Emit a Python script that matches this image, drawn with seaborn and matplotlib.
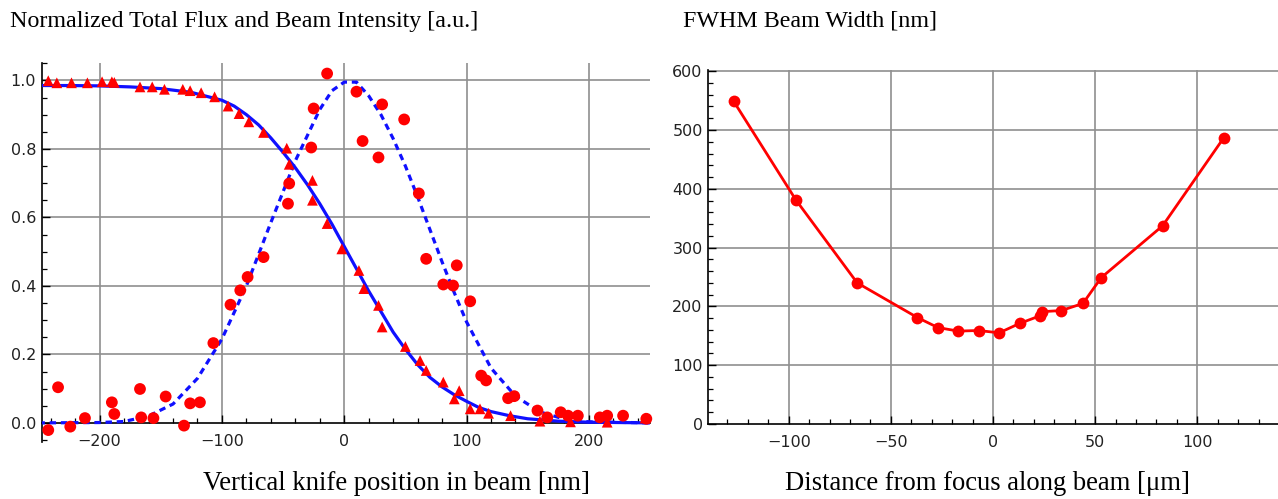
import matplotlib
matplotlib.use("Agg")
import matplotlib.pyplot as plt
import seaborn as sns
import pandas as pd
from matplotlib.ticker import MultipleLocator, FormatStrFormatter

# ---------------- data ----------------
# knife-edge scan (triangles)
knife_x = [-242, -235, -223, -210, -198, -190, -188, -167, -157, -147, -132, -126, -117, -106,
           -95, -86, -78, -66, -47, -45, -26, -26, -14, -2, 12, 16, 28, 31, 50, 62, 67, 81,
           90, 94, 103, 111, 118, 136, 160, 185, 215, 246]
knife_y = [0.999, 0.993, 0.993, 0.993, 0.996, 0.996, 0.994, 0.981, 0.981, 0.974, 0.974, 0.970,
           0.964, 0.952, 0.925, 0.903, 0.879, 0.848, 0.802, 0.755, 0.708, 0.650, 0.582, 0.508,
           0.445, 0.392, 0.343, 0.280, 0.223, 0.182, 0.153, 0.119, 0.070, 0.094, 0.041, 0.041,
           0.028, 0.021, 0.005, 0.003, 0.002, 0.014]

# beam profile (circles)
prof_x = [-242, -234, -224, -212, -190, -188, -167, -166, -156, -146, -131, -126, -118, -107,
          -93, -85, -79, -66, -46, -45, -27, -25, -14, 10, 15, 28, 31, 49, 61, 67, 81, 89, 92,
          103, 112, 116, 134, 139, 158, 166, 177, 183, 191, 209, 215, 228, 247]
prof_y = [-0.021, 0.104, -0.011, 0.014, 0.060, 0.026, 0.099, 0.016, 0.014, 0.077, -0.008, 0.057,
          0.060, 0.233, 0.345, 0.387, 0.426, 0.484, 0.640, 0.699, 0.804, 0.918, 1.020, 0.967,
          0.823, 0.775, 0.930, 0.886, 0.670, 0.479, 0.404, 0.401, 0.460, 0.355, 0.138, 0.124,
          0.072, 0.078, 0.036, 0.016, 0.031, 0.021, 0.021, 0.016, 0.021, 0.021, 0.012]

# fitted edge curve (solid blue)
edge_x = [-250, -225, -200, -175, -150, -125, -100, -90, -80, -70, -60, -50, -40, -30, -20, -10,
          0, 10, 20, 30, 40, 50, 60, 70, 80, 90, 100, 110, 120, 135, 150, 175, 200, 250]
edge_y = [0.985, 0.985, 0.984, 0.981, 0.976, 0.965, 0.942, 0.925, 0.900, 0.870, 0.832, 0.790,
          0.745, 0.695, 0.640, 0.580, 0.515, 0.450, 0.385, 0.325, 0.265, 0.215, 0.170, 0.133,
          0.105, 0.082, 0.063, 0.045, 0.033, 0.021, 0.012, 0.005, 0.002, 0.000]

# fitted beam profile (dashed blue)
gauss_x = [-250, -200, -180, -160, -140, -120, -100, -80, -60, -40, -20, -10, 0, 10, 20, 30, 40,
           50, 60, 70, 80, 90, 100, 120, 140, 160, 180, 200, 250]
gauss_y = [0.000, 0.001, 0.004, 0.020, 0.055, 0.130, 0.245, 0.400, 0.585, 0.765, 0.915, 0.970,
           0.995, 0.995, 0.955, 0.900, 0.830, 0.750, 0.660, 0.565, 0.470, 0.380, 0.295, 0.160,
           0.078, 0.032, 0.011, 0.003, 0.000]

# FWHM vs distance from focus
dist_um = [-127, -96.5, -66.5, -37, -27, -17, -7, 3, 13, 23, 24, 33.5, 44, 53, 83, 113]
fwhm_nm = [549, 381, 240, 181, 164, 158, 159, 155, 171, 184, 191, 193, 205, 249, 337, 487]

left_xticks = [-200, -100, 0, 100, 200]
left_yticks = [0.0, 0.2, 0.4, 0.6, 0.8, 1.0]
right_xticks = [-100, -50, 0, 50, 100]
right_yticks = [0, 100, 200, 300, 400, 500, 600]

# ---------------- style ----------------
sns.set_theme(style="white")
plt.rcParams['font.family'] = ['DejaVu Sans']
RED = '#ff0000'
BLUE = '#1010ff'
GRID = '#8f8f8f'
TICKC = '#222222'

fig = plt.figure(figsize=(12.78, 4.99), dpi=100)
ax1 = fig.add_axes([0.0326, 0.1148, 0.476, 0.7584])
ax2 = fig.add_axes([0.5542, 0.1503, 0.4458, 0.7094])

# ---------------- left panel ----------------
y_lo, y_hi = -0.055, 1.05
ax1.set_xlim(-247.4, 250)
ax1.set_ylim(y_lo, y_hi)
frac0 = (0 - y_lo) / (y_hi - y_lo)
for v in left_xticks:
    ax1.axvline(v, ymin=frac0, ymax=1, color=GRID, lw=1.2, zorder=0.5)
for v in left_yticks[1:]:
    ax1.axhline(v, color=GRID, lw=1.2, zorder=0.5)

sns.lineplot(x=edge_x, y=edge_y, ax=ax1, color=BLUE, lw=2.3, estimator=None, sort=False, zorder=3)
sns.lineplot(x=gauss_x, y=gauss_y, ax=ax1, color=BLUE, lw=2.3, estimator=None, sort=False,
             dashes=False, zorder=3)
ax1.lines[-1].set_dashes((2.0, 1.5))
sns.scatterplot(x=knife_x, y=knife_y, ax=ax1, marker='^', s=60, color=RED, edgecolor='none',
                zorder=4, clip_on=False)
sns.scatterplot(x=prof_x, y=prof_y, ax=ax1, marker='o', s=72, color=RED, edgecolor='none',
                zorder=4, clip_on=False)

for s in ['top', 'right']:
    ax1.spines[s].set_visible(False)
ax1.spines['bottom'].set_position(('data', 0))
for s in ['bottom', 'left']:
    ax1.spines[s].set_color('black')
    ax1.spines[s].set_linewidth(1.2)
ax1.set_xticks(left_xticks)
ax1.set_yticks(left_yticks)
ax1.xaxis.set_minor_locator(MultipleLocator(20))
ax1.yaxis.set_minor_locator(MultipleLocator(0.05))
ax1.yaxis.set_major_formatter(FormatStrFormatter('%.1f'))
ax1.tick_params(which='both', direction='in', color='black', labelsize=11.5, labelcolor=TICKC,
                bottom=True, left=True)
ax1.tick_params(which='major', length=6, width=1.0)
ax1.tick_params(which='minor', length=3.5, width=0.9)
ax1.tick_params(axis='x', pad=8)
ax1.tick_params(axis='y', pad=4)
ax1.set_xlabel('')
ax1.set_ylabel('')

# ---------------- right panel ----------------
ax2.set_xlim(-139.4, 139.5)
ax2.set_ylim(0, 602)
for v in right_xticks:
    ax2.axvline(v, color=GRID, lw=1.2, zorder=0.5)
for v in right_yticks[1:]:
    ax2.axhline(v, color=GRID, lw=1.2, zorder=0.5)

df = pd.DataFrame({'dist': dist_um, 'fwhm': fwhm_nm})
sns.lineplot(data=df, x='dist', y='fwhm', ax=ax2, color=RED, lw=2.0, marker='o', markersize=8.5,
             markeredgewidth=0, estimator=None, sort=False, zorder=4)

for s in ['top', 'right']:
    ax2.spines[s].set_visible(False)
for s in ['bottom', 'left']:
    ax2.spines[s].set_color('black')
    ax2.spines[s].set_linewidth(1.2)
ax2.set_xticks(right_xticks)
ax2.set_yticks(right_yticks)
ax2.xaxis.set_minor_locator(MultipleLocator(10))
ax2.yaxis.set_minor_locator(MultipleLocator(20))
ax2.tick_params(which='both', direction='in', color='black', labelsize=11.5, labelcolor=TICKC,
                bottom=True, left=True)
ax2.tick_params(which='major', length=6, width=1.0)
ax2.tick_params(which='minor', length=3.5, width=0.9)
ax2.tick_params(axis='x', pad=8)
ax2.tick_params(axis='y', pad=4)
ax2.set_xlabel('')
ax2.set_ylabel('')

# ---------------- texts ----------------
serif = ['Liberation Serif', 'DejaVu Serif']
fig.text(10 / 1278, 1 - 21 / 499, 'Normalized Total Flux and Beam Intensity [a.u.]',
         family=serif, fontsize=17.3, ha='left', va='center', color='black')
fig.text(683 / 1278, 1 - 21 / 499, 'FWHM Beam Width [nm]',
         family=serif, fontsize=17.3, ha='left', va='center', color='black')
fig.text(396.5 / 1278, 1 - 484 / 499, 'Vertical knife position in beam [nm]',
         family=serif, fontsize=19.2, ha='center', va='center', color='black')
fig.text(987.5 / 1278, 1 - 484 / 499, 'Distance from focus along beam [\u03bcm]',
         family=serif, fontsize=19.2, ha='center', va='center', color='black')

fig.savefig('out.png', dpi=100)
